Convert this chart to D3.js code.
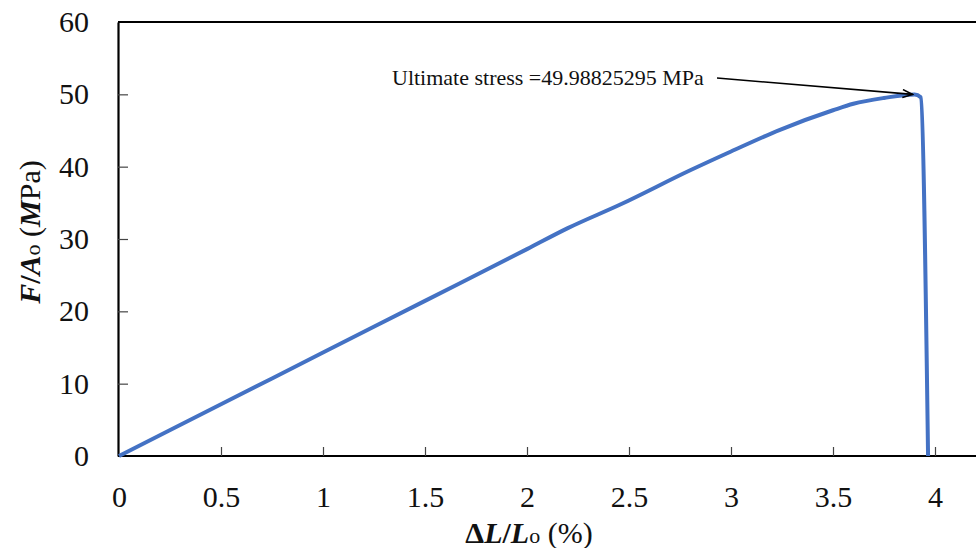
<!DOCTYPE html>
<html>
<head>
<meta charset="utf-8">
<script src="https://cdn.jsdelivr.net/npm/d3@7"></script>
<style>
  html, body { margin: 0; padding: 0; background: #fff; }
  svg { display: block; }
  text { font-family: "Liberation Serif", "Times New Roman", serif; }
</style>
</head>
<body>
<svg id="chart" width="976" height="548"></svg>
<script>
// ---- data ----
const strain = [0, 0.5, 1, 1.5, 2, 2.2, 2.46, 2.8, 3, 3.24, 3.5, 3.6, 3.75, 3.9, 3.93, 3.966];
const stress = [0, 7.15, 14.3, 21.45, 28.6, 31.5, 34.8, 39.5, 42.1, 45.1, 47.8, 48.7, 49.5, 49.988, 49.6, 0];
const xTicks = [0, 0.5, 1, 1.5, 2, 2.5, 3, 3.5, 4];
const yTicks = [0, 10, 20, 30, 40, 50, 60];
const annotationText = "Ultimate stress =49.98825295 MPa";
const peak = { x: 3.9, y: 49.988 };

const svg = d3.select("#chart");
const x = d3.scaleLinear().domain([0, 4.5]).range([119, 1037]);
const y = d3.scaleLinear().domain([0, 60]).range([456, 22]);

// frame: top border
svg.append("line").attr("x1", 118).attr("x2", 976).attr("y1", y(60)).attr("y2", y(60))
  .attr("stroke", "#000").attr("stroke-width", 2.2);

// x axis
const gx = svg.append("g").attr("transform", `translate(0,${y(0)})`)
  .call(d3.axisBottom(x).tickValues(xTicks).tickFormat(d3.format("")).tickSizeInner(-9).tickSizeOuter(0).tickPadding(30));
gx.select(".domain").attr("stroke", "#000").attr("stroke-width", 2.2).attr("d", `M118,0H976`);
gx.selectAll(".tick line").attr("stroke", "#444").attr("stroke-width", 1.2);
gx.selectAll(".tick text").attr("font-size", 30).attr("fill", "#111")
  .style("font-family", '"Liberation Serif", "Times New Roman", serif');
gx.selectAll(".tick line").filter(d => d === 0).remove();

// y axis
const gy = svg.append("g").attr("transform", `translate(118,0)`)
  .call(d3.axisLeft(y).tickValues(yTicks).tickFormat(d3.format("")).tickSizeInner(-10).tickSizeOuter(0).tickPadding(29));
gy.select(".domain").attr("stroke", "#000").attr("stroke-width", 2.2);
gy.selectAll(".tick line").attr("stroke", "#444").attr("stroke-width", 1.2)
  .filter(d => d === 0 || d === 60).remove();
gy.selectAll(".tick text").attr("font-size", 30).attr("fill", "#111")
  .style("font-family", '"Liberation Serif", "Times New Roman", serif');

// curve
const pts = strain.map((v, i) => [v, stress[i]]);
svg.append("path").datum(pts)
  .attr("fill", "none").attr("stroke", "#4472C4").attr("stroke-width", 4)
  .attr("stroke-linejoin", "round")
  .attr("d", d3.line().x(d => x(d[0])).y(d => y(d[1])).curve(d3.curveMonotoneX));

// annotation
svg.append("defs").append("marker").attr("id", "arr").attr("viewBox", "0 0 12 10")
  .attr("refX", 11).attr("refY", 5).attr("markerWidth", 12).attr("markerHeight", 10)
  .attr("markerUnits", "userSpaceOnUse").attr("orient", "auto")
  .append("path").attr("d", "M1,1 L11,5 L1,9").attr("fill", "none").attr("stroke", "#000").attr("stroke-width", 1.6);
svg.append("text").attr("x", 392).attr("y", 85).attr("font-size", 22).attr("fill", "#111").text(annotationText);
svg.append("line").attr("x1", 717).attr("y1", 78).attr("x2", x(peak.x) - 2).attr("y2", y(peak.y))
  .attr("stroke", "#000").attr("stroke-width", 1.6).attr("marker-end", "url(#arr)");

// x title
const xt = svg.append("text").attr("x", 529).attr("y", 543).attr("text-anchor", "middle")
  .attr("font-size", 30).attr("font-weight", "bold").attr("fill", "#111");
xt.append("tspan").text("Δ");
xt.append("tspan").attr("font-style", "italic").text("L");
xt.append("tspan").text("/");
xt.append("tspan").attr("font-style", "italic").text("L");
xt.append("tspan").attr("font-size", 22).attr("font-weight", "normal").text("o");
xt.append("tspan").attr("font-weight", "normal").text(" (%)");

// y title
const yt = svg.append("text").attr("transform", "translate(40,232) rotate(-90)").attr("text-anchor", "middle")
  .attr("font-size", 30).attr("font-weight", "bold").attr("fill", "#111");
yt.append("tspan").attr("font-style", "italic").text("F");
yt.append("tspan").text("/");
yt.append("tspan").attr("font-style", "italic").text("A");
yt.append("tspan").attr("font-size", 22).attr("font-weight", "normal").text("o");
yt.append("tspan").attr("font-weight", "normal").text(" (");
yt.append("tspan").attr("font-style", "italic").text("M");
yt.append("tspan").attr("font-weight", "normal").text("Pa)");
</script>
</body>
</html>
